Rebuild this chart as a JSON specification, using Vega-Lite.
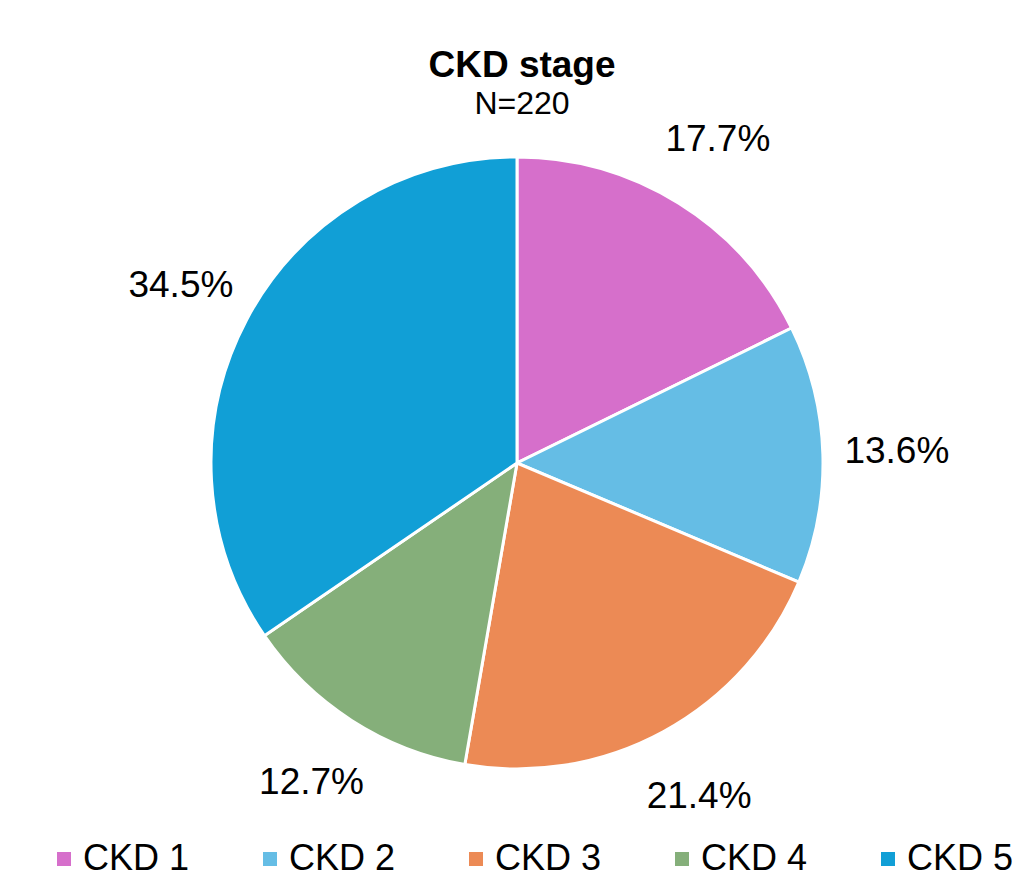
{
  "$schema": "https://vega.github.io/schema/vega-lite/v6.json",
  "autosize": "none",
  "width": 1008,
  "height": 612,
  "padding": {"left": 13, "top": 157, "right": 0, "bottom": 109},
  "background": "white",
  "title": {
    "text": "CKD stage",
    "subtitle": "N=220",
    "anchor": "middle",
    "dx": 5,
    "offset": 0,
    "font": "Liberation Sans",
    "fontSize": 37,
    "fontWeight": "bold",
    "color": "black",
    "subtitleFont": "Liberation Sans",
    "subtitleFontSize": 32,
    "subtitleColor": "black",
    "subtitlePadding": 4
  },
  "data": {
    "values": [
      {"stage": "CKD 1", "n": 39, "pct": "17.7%"},
      {"stage": "CKD 2", "n": 30, "pct": "13.6%"},
      {"stage": "CKD 3", "n": 47, "pct": "21.4%"},
      {"stage": "CKD 4", "n": 28, "pct": "12.7%"},
      {"stage": "CKD 5", "n": 76, "pct": "34.5%"}
    ]
  },
  "encoding": {
    "theta": {"field": "n", "type": "quantitative", "stack": true},
    "order": {"field": "stage", "type": "ordinal", "sort": "ascending"}
  },
  "layer": [
    {
      "mark": {"type": "arc", "outerRadius": 306, "stroke": "white", "strokeWidth": 3},
      "encoding": {
        "color": {
          "field": "stage",
          "type": "nominal",
          "scale": {
            "domain": ["CKD 1", "CKD 2", "CKD 3", "CKD 4", "CKD 5"],
            "range": ["#D66FCB", "#65BDE5", "#EC8A55", "#85AF7A", "#119FD6"]
          },
          "legend": {
            "title": null,
            "orient": "none",
            "legendX": 33,
            "legendY": 684,
            "direction": "horizontal",
            "columns": 5,
            "symbolType": "square",
            "symbolSize": 196,
            "symbolStrokeWidth": 0,
            "labelFont": "Liberation Sans",
            "labelFontSize": 36,
            "labelColor": "black",
            "labelOffset": 1,
            "columnPadding": 62,
            "labelLimit": 300
          }
        }
      }
    },
    {
      "mark": {"type": "text", "radius": 380, "font": "Liberation Sans", "fontSize": 37, "color": "black"},
      "encoding": {
        "text": {"field": "pct", "type": "nominal"},
        "detail": {"field": "stage", "type": "nominal"}
      }
    }
  ],
  "config": {"view": {"stroke": null}}
}
